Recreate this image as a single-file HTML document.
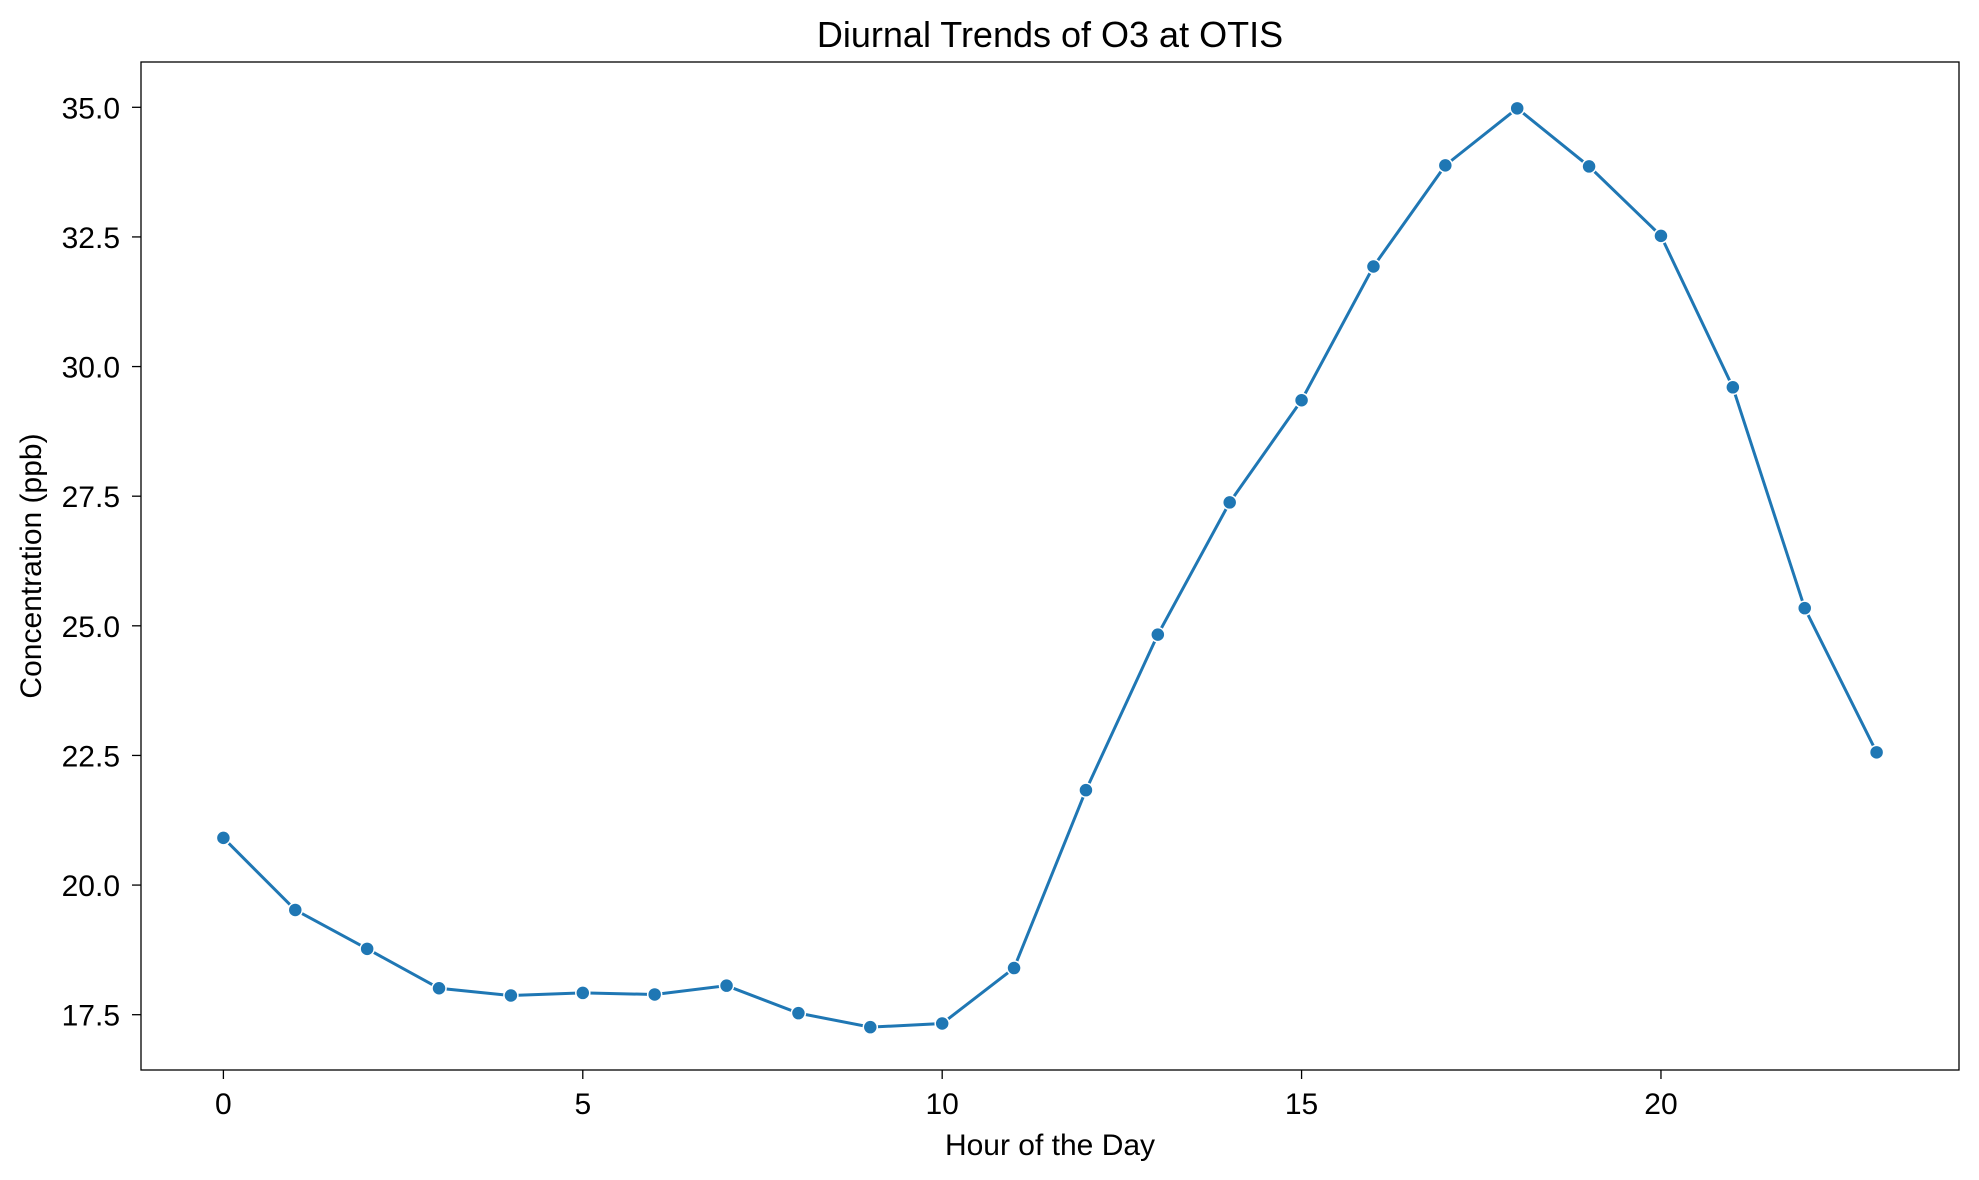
<!DOCTYPE html>
<html><head><meta charset="utf-8"><style>
html,body{margin:0;padding:0;background:#fff;}
svg{display:block;font-family:"Liberation Sans","DejaVu Sans",sans-serif;}
</style></head><body>
<svg id="chart" width="1979" height="1180" viewBox="0 0 1979 1180" xmlns="http://www.w3.org/2000/svg">
<rect width="1979" height="1180" fill="#fff"/>
<text x="1050" y="47" font-size="36" text-anchor="middle" fill="#000">Diurnal Trends of O3 at OTIS</text>
<text x="1050" y="1155" font-size="30" text-anchor="middle" fill="#000">Hour of the Day</text>
<text x="0" y="0" font-size="30" text-anchor="middle" fill="#000" transform="translate(41,566) rotate(-90)">Concentration (ppb)</text>
<g id="xticks"></g><g id="yticks"></g>
<polyline id="line" fill="none" stroke="#1f77b4" stroke-width="3"/>
<g id="points"></g>
<rect x="141" y="62" width="1818" height="1008" fill="none" stroke="#000" stroke-width="1.3"/>
</svg>
<script>
const hours=[0,1,2,3,4,5,6,7,8,9,10,11,12,13,14,15,16,17,18,19,20,21,22,23];
const o3=[20.91,19.52,18.77,18.01,17.87,17.92,17.89,18.06,17.53,17.26,17.33,18.40,21.83,24.83,27.38,29.35,31.93,33.88,34.98,33.86,32.52,29.60,25.34,22.56];
const xTicks=[0,5,10,15,20];
const yTicks=[17.5,20.0,22.5,25.0,27.5,30.0,32.5,35.0];
const NS="http://www.w3.org/2000/svg";
const L=141,R=1959,T=62,B=1070;
function xs(h){return 223.4+h*(1876.6-223.4)/23;}
function ys(v){return 1014.7-(v-17.5)*(1014.7-107.3)/17.5;}
function mk(tag,attrs,parent){const e=document.createElementNS(NS,tag);for(const k in attrs)e.setAttribute(k,attrs[k]);parent.appendChild(e);return e;}
const xg=document.getElementById('xticks'),yg=document.getElementById('yticks');
xTicks.forEach(t=>{
  const x=xs(t);
  const l=mk('line',{x1:x,x2:x,y1:B,y2:B+9,stroke:'#000','stroke-width':1.3},xg);
  
  
  const tx=mk('text',{x:x,y:B+44,'font-size':30,'text-anchor':'middle'},xg);
  tx.textContent=t;
  
  
});
yTicks.forEach(t=>{
  const y=ys(t);
  const l=mk('line',{x1:L-9,x2:L,y1:y,y2:y,stroke:'#000','stroke-width':1.3},yg);
  
  
  const tx=mk('text',{x:L-21,y:y+11,'font-size':30,'text-anchor':'end'},yg);
  tx.textContent=t.toFixed(1);
  
  
});
document.getElementById('line').setAttribute('points',hours.map((h,i)=>xs(h)+','+ys(o3[i])).join(' '));
const pg=document.getElementById('points');
hours.forEach((h,i)=>{
  const c=mk('circle',{cx:xs(h),cy:ys(o3[i]),r:7,fill:'#1f77b4',stroke:'#fff','stroke-width':1.5},pg);
  
  
});
</script>
</body></html>
